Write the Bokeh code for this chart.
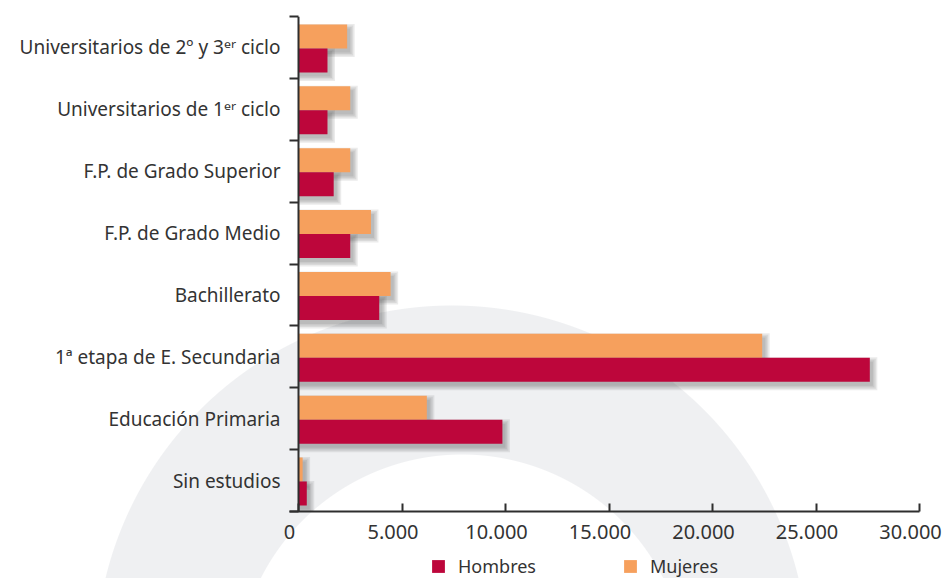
from bokeh.plotting import figure
from bokeh.layouts import column
from bokeh.models import Range1d, FixedTicker, LinearAxis, Legend, LegendItem, ColumnDataSource, Span
from bokeh.embed import file_html
from bokeh.resources import INLINE

# ---- data (bottom to top) ----
categories = [
    "Sin estudios",
    "Educación Primaria",
    "1ª etapa de E. Secundaria",
    "Bachillerato",
    "F.P. de Grado Medio",
    "F.P. de Grado Superior",
    "Universitarios de 1ᵉʳ ciclo",
    "Universitarios de 2º y 3ᵉʳ ciclo",
]
hombres = [400, 9850, 27600, 3900, 2500, 1700, 1400, 1400]
mujeres = [200, 6200, 22400, 4450, 3500, 2500, 2500, 2350]
x_ticks = [0, 5000, 10000, 15000, 20000, 25000, 30000]
x_tick_labels = ["0", "5.000", "10.000", "15.000", "20.000", "25.000", "30.000"]
series_names = ["Hombres", "Mujeres"]

# ---- layout ----
W = 946
H_MAIN, H_LEG = 553, 25
ML, MR, MT, MB = 289, 27, 16, 42
XMAX = 30000
n = len(categories)
frame_w = W - ML - MR
frame_h = H_MAIN - MT - MB
GAP = 9                           # px between frame edge and the zero line
ux = XMAX / (frame_w - GAP)       # data units per pixel (x)
uy = n / frame_h                  # data units per pixel (y)
S = GAP * ux

C_H = "#bd063b"
C_M = "#f6a05d"
TXT = "#333333"
AX = "#2e2e2e"
FONT = "Noto Sans"
RING = "#eff0f2"


def ring_css(dy):
    return (
        f"radial-gradient(circle 226px at 462px {680 - dy}px, #ffffff 225px, rgba(255,255,255,0) 226px), "
        f"radial-gradient(circle 357px at 452px {662 - dy}px, {RING} 356px, rgba(239,240,242,0) 357px), "
        "#ffffff"
    )


bar_h = 24 * uy
idx = list(range(n))
y_m = [i + 11 * uy for i in idx]
y_h = [i - 13 * uy for i in idx]

p = figure(width=W, height=H_MAIN, output_backend="svg", toolbar_location=None,
           x_range=Range1d(-S, XMAX), y_range=Range1d(-0.5, n - 0.5),
           min_border_left=ML, min_border_right=MR, min_border_top=MT, min_border_bottom=MB,
           x_axis_location=None, y_axis_location=None,
           background_fill_color=None, border_fill_color=None, outline_line_color=None)
p.grid.visible = False
p.styles = {"background": ring_css(0)}

# ---- soft drop shadows ----
sx, sy = 3, 4
for e in [0, 1.5, 3, 4.5]:
    for ys, vals in [(y_m, mujeres), (y_h, hombres)]:
        src = ColumnDataSource(dict(
            y=[y - sy * uy for y in ys],
            right=[v + (sx + e) * ux for v in vals],
        ))
        p.hbar(y="y", left=0, right="right", height=bar_h + 2 * e * uy, source=src,
               fill_color="#4a4a4a", fill_alpha=0.11, line_color=None)

# ---- bars ----
src_m = ColumnDataSource(dict(y=y_m, v=mujeres))
src_h = ColumnDataSource(dict(y=y_h, v=hombres))
p.hbar(y="y", left=0, right="v", height=bar_h, source=src_m, fill_color=C_M, line_color=None)
p.hbar(y="y", left=0, right="v", height=bar_h, source=src_h, fill_color=C_H, line_color=None)

# zero line (vertical axis line)
p.add_layout(Span(location=0, dimension="height", line_color=AX, line_width=2))

# ---- left (category) axis: labels at centres, ticks at boundaries ----
yax = LinearAxis(
    ticker=FixedTicker(ticks=idx, minor_ticks=[i - 0.5 for i in range(n + 1)]),
    major_label_overrides={i: c for i, c in enumerate(categories)},
    major_tick_in=0, major_tick_out=0, major_tick_line_color=None,
    minor_tick_in=GAP, minor_tick_out=0, minor_tick_line_color=AX, minor_tick_line_width=2,
    axis_line_color=None,
    major_label_text_font=FONT, major_label_text_font_size="19px",
    major_label_text_color=TXT, major_label_standoff=9,
)
p.add_layout(yax, "left")

# ---- bottom axis: labels a little left of their inward ticks ----
p.extra_x_ranges = {"lab": Range1d(0, XMAX + S)}
xax = LinearAxis(
    x_range_name="lab",
    ticker=FixedTicker(ticks=x_ticks, minor_ticks=[v + S for v in x_ticks]),
    major_label_overrides=dict(zip(x_ticks, x_tick_labels)),
    major_tick_in=0, major_tick_out=0, major_tick_line_color=None,
    minor_tick_in=8, minor_tick_out=0, minor_tick_line_color=AX, minor_tick_line_width=2,
    axis_line_color=AX, axis_line_width=2,
    major_label_text_font=FONT, major_label_text_font_size="20px",
    major_label_text_color=TXT, major_label_standoff=13,
)
p.add_layout(xax, "below")

# ---- legend strip (its frame is aligned with the chart's frame) ----
pl = figure(width=W, height=H_LEG, output_backend="svg", toolbar_location=None,
            x_range=Range1d(0, 1), y_range=Range1d(0, 1),
            min_border_left=0, min_border_right=0, min_border_top=0, min_border_bottom=0,
            x_axis_location=None, y_axis_location=None,
            background_fill_color=None, border_fill_color=None, outline_line_color=None)
pl.grid.visible = False
pl.styles = {"background": ring_css(H_MAIN)}
key_src = ColumnDataSource(dict(y=[0], v=[0]))
lh = pl.hbar(y="y", left=0, right="v", height=0, source=key_src, fill_color=C_H, line_color=None)
lm = pl.hbar(y="y", left=0, right="v", height=0, source=key_src, fill_color=C_M, line_color=None)

legend = Legend(
    items=[LegendItem(label=series_names[0], renderers=[lh]),
           LegendItem(label=series_names[1], renderers=[lm])],
    orientation="horizontal", location=(141, 0), spacing=86,
    glyph_width=16, glyph_height=16, label_standoff=12, label_height=16,
    label_text_font=FONT, label_text_font_size="18px", label_text_color=TXT,
    padding=0, margin=0, border_line_color=None, background_fill_color=None,
)
pl.add_layout(legend, "center")

layout = column(p, pl, spacing=0)
open("out.html", "w").write(file_html(layout, INLINE))
